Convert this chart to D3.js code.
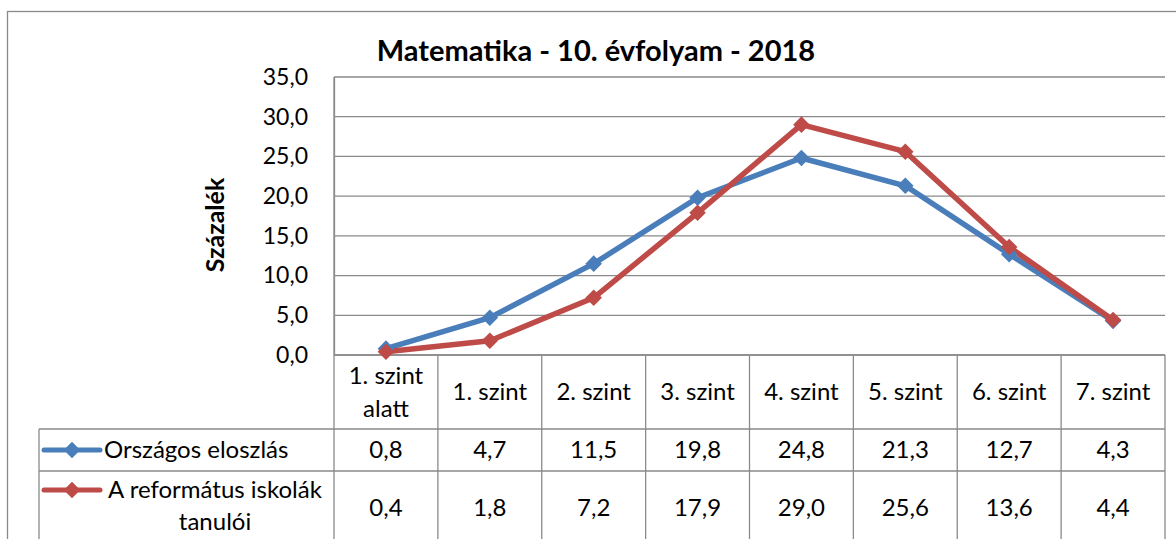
<!DOCTYPE html>
<html><head><meta charset="utf-8">
<script src="https://cdn.jsdelivr.net/npm/d3@7"></script>
<style>body{margin:0;background:#fff}svg{display:block}text{font-family:Lato,"Open Sans",sans-serif;fill:#000}</style>
</head><body>
<script>
const categories = [["1. szint","alatt"],["1. szint"],["2. szint"],["3. szint"],["4. szint"],["5. szint"],["6. szint"],["7. szint"]];
const orszagos = [0.8, 4.7, 11.5, 19.8, 24.8, 21.3, 12.7, 4.3];
const reformatus = [0.4, 1.8, 7.2, 17.9, 29.0, 25.6, 13.6, 4.4];
const seriesNames = [["Országos eloszlás"], ["A református iskolák","tanulói"]];
const yTicks = [0, 5, 10, 15, 20, 25, 30, 35];
const colors = ["#4A7EBB", "#BE4B48"];
const title = "Matematika - 10. évfolyam - 2018";
const yLabel = "Százalék";

const W = 1176, H = 539;
const svg = d3.select("body").append("svg").attr("width", W).attr("height", H);
const grid = "#8a8a8a";
const fs = 24;
const fmt = v => v.toFixed(1).replace(".", ",");

// outer border
svg.append("rect").attr("x", 7.5).attr("y", 11.5).attr("width", W).attr("height", H)
  .attr("fill", "none").attr("stroke", grid).attr("stroke-width", 1.3);

const pLeft = 334, pRight = 1165, pTop = 77, pBottom = 355;
const x = d3.scaleBand().domain(d3.range(categories.length)).range([pLeft, pRight]);
const y = d3.scaleLinear().domain([0, 35]).range([pBottom, pTop]);

// gridlines
svg.append("g").selectAll("line").data(yTicks).join("line")
  .attr("x1", pLeft).attr("x2", pRight).attr("y1", d => y(d)).attr("y2", d => y(d))
  .attr("stroke", grid).attr("stroke-width", 1.3);

// y axis
const yAxis = d3.axisLeft(y).tickValues(yTicks).tickFormat(fmt).tickSize(0).tickPadding(26);
const ga = svg.append("g").attr("transform", `translate(${pLeft},0)`).call(yAxis);
ga.select(".domain").attr("stroke", grid).attr("stroke-width", 1.3);
ga.selectAll("text").attr("font-size", 23).attr("font-family", "Lato").attr("fill", "#000");

// title
svg.append("text").attr("x", 596).attr("y", 61).attr("text-anchor", "middle")
  .attr("font-weight", "bold").attr("font-size", 29).text(title);
// y label
svg.append("text").attr("transform", "translate(224,225) rotate(-90)").attr("text-anchor", "middle")
  .attr("font-weight", "bold").attr("font-size", 25).text(yLabel);

// table
const rowY = [pBottom, 429, 471, 560];
const tbl = svg.append("g").attr("stroke", grid).attr("stroke-width", 1.3);
tbl.append("line").attr("x1", pLeft).attr("x2", pRight).attr("y1", rowY[0]).attr("y2", rowY[0]);
[rowY[1], rowY[2]].forEach(yy => tbl.append("line").attr("x1", 39).attr("x2", pRight).attr("y1", yy).attr("y2", yy));
tbl.append("line").attr("x1", 39).attr("x2", 39).attr("y1", rowY[1]).attr("y2", H);
d3.range(categories.length + 1).forEach(i => {
  const xx = i < categories.length ? x(i) : pRight;
  tbl.append("line").attr("x1", xx).attr("x2", xx).attr("y1", i === 0 ? pTop : rowY[0]).attr("y2", H);
});

// header labels
categories.forEach((c, i) => {
  const cx = x(i) + x.bandwidth() / 2;
  const cy = 392;
  const lh = 33;
  c.forEach((t, k) => {
    svg.append("text").attr("x", cx).attr("y", cy + (k - (c.length - 1) / 2) * lh)
      .attr("dy", "0.35em").attr("text-anchor", "middle").attr("font-size", fs).text(t);
  });
});

const allSeries = [orszagos, reformatus];
const diamond = d3.symbol(d3.symbolDiamond2, 175)();
allSeries.forEach((vals, s) => {
  const cy = s === 0 ? 450 : 508;
  vals.forEach((v, i) => {
    svg.append("text").attr("x", x(i) + x.bandwidth() / 2).attr("y", cy).attr("dy", "0.35em")
      .attr("text-anchor", "middle").attr("font-size", fs).text(fmt(v));
  });
  // legend key
  const ly = s === 0 ? 450 : 490;
  svg.append("line").attr("x1", 44).attr("x2", 100).attr("y1", ly).attr("y2", ly)
    .attr("stroke", colors[s]).attr("stroke-width", 5).attr("stroke-linecap", "round");
  svg.append("path").attr("d", diamond).attr("transform", `translate(72,${ly})`)
    .attr("fill", colors[s]);
  const names = seriesNames[s];
  if (names.length === 1) {
    svg.append("text").attr("x", 104).attr("y", ly).attr("dy", "0.35em").attr("font-size", fs).text(names[0]);
  } else {
    names.forEach((t, k) => svg.append("text").attr("x", 215).attr("y", ly + k * 32).attr("dy", "0.35em")
      .attr("text-anchor", "middle").attr("font-size", fs).text(t));
  }
});

// lines
const line = d3.line().x((d, i) => x(i) + x.bandwidth() / 2).y(d => y(d));
allSeries.forEach((vals, s) => {
  svg.append("path").datum(vals).attr("d", line).attr("fill", "none")
    .attr("stroke", colors[s]).attr("stroke-width", 5.5).attr("stroke-linejoin", "round");
});
allSeries.forEach((vals, s) => {
  svg.append("g").selectAll("path").data(vals).join("path")
    .attr("d", diamond)
    .attr("transform", (d, i) => `translate(${x(i) + x.bandwidth() / 2},${y(d)})`)
    .attr("fill", colors[s]);
});
</script>
</body></html>
